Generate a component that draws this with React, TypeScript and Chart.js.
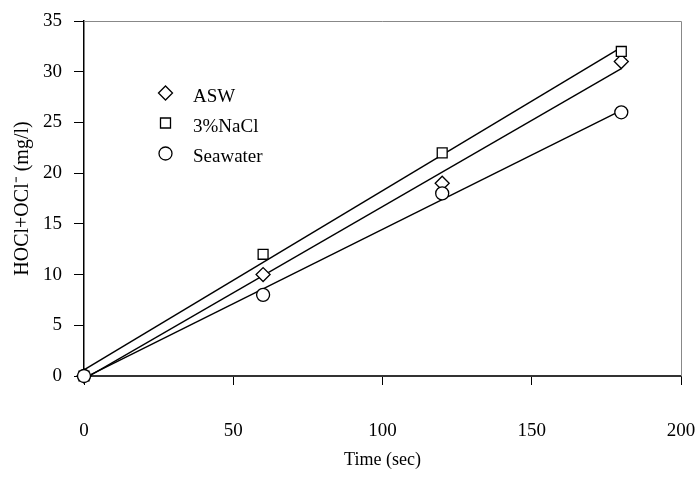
import React, { useEffect, useRef } from "react";
import { Chart, registerables } from "chart.js";

Chart.register(...registerables);

const timeSec = [0, 60, 120, 180];
const aswValues = [0, 10, 19, 31];
const naclValues = [0, 12, 22, 32];
const seawaterValues = [0, 8, 18, 26];
const seriesLabels = ["ASW", "3%NaCl", "Seawater"];
const xTitle = "Time (sec)";
const yTitle = "HOCl+OCl\u207B (mg/l)";

const FONT = "'Liberation Serif', 'Times New Roman', serif";

function fitLine(xs: number[], ys: number[]) {
  const n = xs.length;
  const mx = xs.reduce((a, b) => a + b, 0) / n;
  const my = ys.reduce((a, b) => a + b, 0) / n;
  let sxy = 0, sxx = 0;
  for (let i = 0; i < n; i++) {
    sxy += (xs[i] - mx) * (ys[i] - my);
    sxx += (xs[i] - mx) * (xs[i] - mx);
  }
  const slope = sxy / sxx;
  const icpt = my - slope * mx;
  const x0 = Math.min(...xs), x1 = Math.max(...xs);
  return [
    { x: x0, y: icpt + slope * x0 },
    { x: x1, y: icpt + slope * x1 },
  ];
}

function pts(xs: number[], ys: number[]) {
  return xs.map((x, i) => ({ x, y: ys[i] }));
}

const framePlugin = {
  id: "frame",
  afterDraw(chart: any) {
    const { ctx, chartArea } = chart;
    const { left, right, top, bottom } = chartArea;
    ctx.save();
    ctx.strokeStyle = "#888888";
    ctx.lineWidth = 1;
    ctx.beginPath();
    ctx.moveTo(left, top + 0.5);
    ctx.lineTo(right + 0.5, top + 0.5);
    ctx.lineTo(right + 0.5, bottom);
    ctx.stroke();

    // legend
    const rows = [
      { style: "diamond", y: 93 },
      { style: "square", y: 123 },
      { style: "circle", y: 153.5 },
    ];
    const mx = 165.5;
    ctx.lineWidth = 1.3;
    ctx.strokeStyle = "#000";
    ctx.fillStyle = "#fff";
    rows.forEach((r) => {
      ctx.beginPath();
      if (r.style === "diamond") {
        ctx.moveTo(mx - 7, r.y);
        ctx.lineTo(mx, r.y - 7);
        ctx.lineTo(mx + 7, r.y);
        ctx.lineTo(mx, r.y + 7);
        ctx.closePath();
      } else if (r.style === "square") {
        ctx.rect(mx - 5, r.y - 5, 10, 10);
      } else {
        ctx.arc(mx, r.y, 6.5, 0, Math.PI * 2);
      }
      ctx.fill();
      ctx.stroke();
    });
    ctx.fillStyle = "#000";
    ctx.font = `19px ${FONT}`;
    ctx.textBaseline = "alphabetic";
    ctx.textAlign = "left";
    rows.forEach((r, i) => {
      ctx.fillText(seriesLabels[i], 193, r.y + 8.5);
    });
    ctx.restore();
  },
};

export default function App() {
  const ref = useRef<HTMLCanvasElement | null>(null);
  useEffect(() => {
    if (!ref.current) return;
    const markerCommon = {
      showLine: false,
      clip: false,
      borderColor: "#000",
      backgroundColor: "#fff",
      pointBorderColor: "#000",
      pointBackgroundColor: "#fff",
      pointBorderWidth: 1.3,
    };
    const lineCommon = {
      showLine: true,
      borderColor: "#000",
      borderWidth: 1.4,
      pointRadius: 0,
      fill: false,
    };
    const chart = new Chart(ref.current, {
      type: "scatter",
      data: {
        datasets: [
          { ...markerCommon, label: seriesLabels[2], data: pts(timeSec, seawaterValues), pointStyle: "circle", pointRadius: 6.5 },
          { ...markerCommon, label: seriesLabels[1], data: pts(timeSec, naclValues), pointStyle: "rect", pointRadius: 7 },
          { ...markerCommon, label: seriesLabels[0], data: pts(timeSec, aswValues), pointStyle: "rectRot", pointRadius: 7 },
          { ...lineCommon, label: "fit1", data: fitLine(timeSec, aswValues) },
          { ...lineCommon, label: "fit2", data: fitLine(timeSec, naclValues) },
          { ...lineCommon, label: "fit3", data: fitLine(timeSec, seawaterValues) },
        ] as any,
      },
      options: {
        animation: false,
        responsive: true,
        maintainAspectRatio: false,
        layout: { padding: { top: 21, right: 16, left: 0, bottom: 0 } },
        plugins: { legend: { display: false }, tooltip: { enabled: false } },
        scales: {
          x: {
            type: "linear",
            min: 0,
            max: 200,
            ticks: { stepSize: 50, color: "#000", padding: 35, font: { family: FONT, size: 19 } },
            grid: { drawOnChartArea: false, drawTicks: true, tickLength: 9, color: "#000", lineWidth: 1 },
            border: { color: "#333", width: 2 },
            title: { display: true, text: xTitle, color: "#000", font: { family: FONT, size: 18 }, padding: { top: 0, bottom: 6 } },
            afterFit: (s: any) => { s.height = 101; s.paddingLeft = 0; s.paddingRight = 0; },
          },
          y: {
            type: "linear",
            min: 0,
            max: 35,
            ticks: { stepSize: 5, color: "#000", padding: 12, font: { family: FONT, size: 19 } },
            grid: { drawOnChartArea: false, drawTicks: true, tickLength: 10, color: "#000", lineWidth: 1 },
            border: { color: "#000", width: 1.5 },
            title: { display: true, text: yTitle, color: "#000", font: { family: FONT, size: 20 }, padding: { top: 11, bottom: 0 } },
            afterFit: (s: any) => { s.width = 84; s.paddingTop = 0; s.paddingBottom = 0; },
          },
        },
      },
      plugins: [framePlugin],
    });
    return () => chart.destroy();
  }, []);
  return (
    <div style={{ position: "fixed", left: 0, top: 0, width: 697, height: 477, background: "#fff" }}>
      <canvas ref={ref} />
    </div>
  );
}
